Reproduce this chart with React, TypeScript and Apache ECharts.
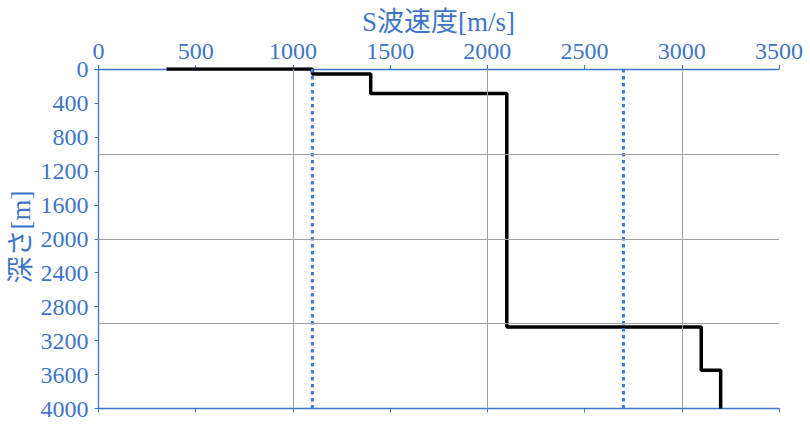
import { useEffect, useRef } from 'react';
import * as echarts from 'echarts';

// Vs profile vertices (velocity m/s, depth m)
const profileVelocity = [350, 1100, 1100, 1400, 1400, 2100, 2100, 3100, 3100, 3200, 3200];
const profileDepth = [0, 0, 60, 60, 290, 290, 3040, 3040, 3550, 3550, 4000];

// dotted reference velocities, drawn over the full depth range
const refVelocities = [1100, 2700];
const refDepthRange = [0, 4000];

// gray gridlines
const gridVelocities = [1000, 2000, 3000];
const gridDepths = [1000, 2000, 3000];

const xTitle = 'S波速度[m/s]';
const yTitle = '深さ[m]';

const BLUE = '#3F75C8';
const SERIF = "'Liberation Serif', 'Noto Sans CJK JP', serif";

export default function App() {
  const ref = useRef<HTMLDivElement | null>(null);

  useEffect(() => {
    document.body.style.margin = '0';
    if (!ref.current) return;
    const chart = echarts.init(ref.current, undefined, { renderer: 'svg' });

    const profile = profileVelocity.map((v, i) => [v, profileDepth[i]]);

    const refSeries = refVelocities.map(v => ({
      type: 'line',
      data: refDepthRange.map(d => [v, d]),
      symbol: 'none',
      z: 4,
      lineStyle: { color: '#3C7BD4', width: 3, type: [3.5, 3.5] },
    }));

    const axisBase = {
      type: 'value',
      axisLine: { show: true, lineStyle: { color: BLUE, width: 1.3 } },
      axisTick: { show: true, length: 4, lineStyle: { color: BLUE } },
      splitLine: { show: false },
    };

    const labelStyle = {
      color: BLUE,
      fontSize: 24,
      fontFamily: SERIF,
      formatter: (v: number) => String(v),
    };

    chart.setOption({
      animation: false,
      grid: { left: 98.5, right: 31, top: 69, bottom: 17.5 },
      xAxis: [
        {
          ...axisBase,
          position: 'top',
          min: 0,
          max: 3500,
          interval: 500,
          axisLabel: { ...labelStyle, margin: 6 },
        },
        {
          ...axisBase,
          position: 'bottom',
          min: 0,
          max: 3500,
          interval: 500,
          axisLabel: { show: false },
        },
      ],
      yAxis: {
        ...axisBase,
        inverse: true,
        min: 0,
        max: 4000,
        interval: 400,
        axisLabel: { ...labelStyle, margin: 10 },
      },
      graphic: [
        {
          type: 'text',
          x: 438.5,
          y: 22,
          style: {
            text: xTitle,
            fill: BLUE,
            fontSize: 27,
            fontFamily: SERIF,
            textAlign: 'center',
            textVerticalAlign: 'middle',
          },
        },
        {
          type: 'text',
          x: 21,
          y: 237,
          rotation: Math.PI / 2,
          style: {
            text: yTitle,
            fill: BLUE,
            fontSize: 27,
            fontFamily: SERIF,
            textAlign: 'center',
            textVerticalAlign: 'middle',
          },
        },
      ],
      series: [
        {
          type: 'line',
          data: [],
          z: 1,
          markLine: {
            silent: true,
            symbol: 'none',
            label: { show: false },
            lineStyle: { color: '#A0A0A0', width: 1, type: 'solid' },
            data: [
              ...gridVelocities.map(v => ({ xAxis: v })),
              ...gridDepths.map(d => ({ yAxis: d })),
            ],
          },
        },
        ...refSeries,
        {
          type: 'line',
          data: profile,
          symbol: 'none',
          z: 3,
          lineStyle: { color: '#000', width: 3.5 },
        },
      ],
    });

    return () => {
      chart.dispose();
    };
  }, []);

  return <div ref={ref} style={{ width: 810, height: 426 }} />;
}
